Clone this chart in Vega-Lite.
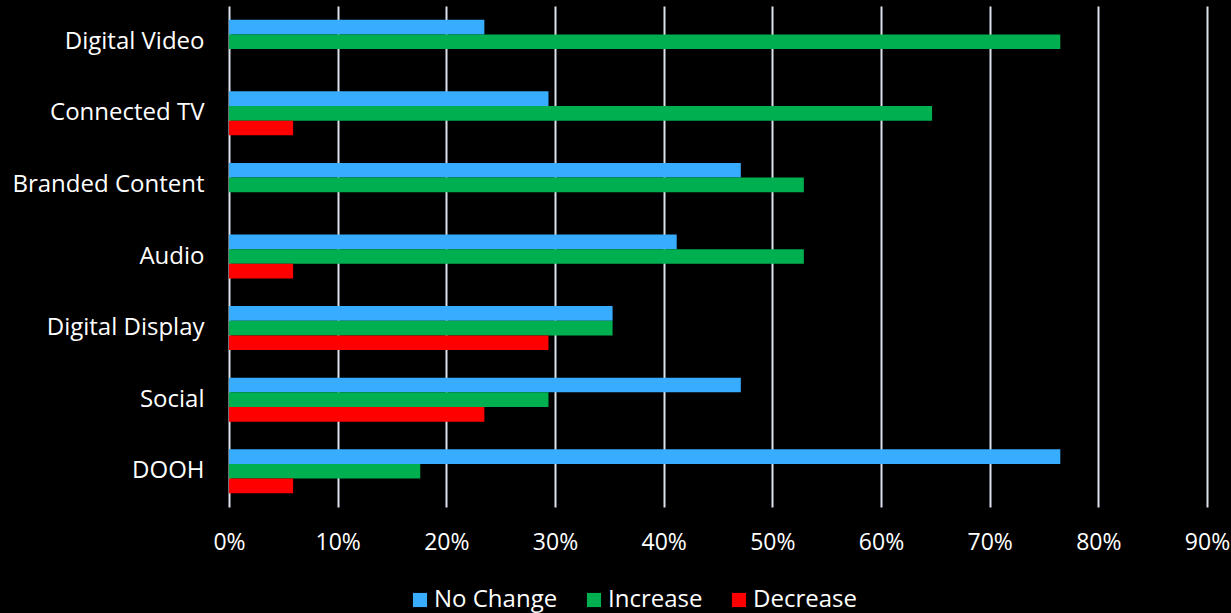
{
  "$schema": "https://vega.github.io/schema/vega-lite/v6.json",
  "width": 978,
  "height": 501,
  "autosize": "none",
  "padding": {"left": 229, "top": 6, "right": 24, "bottom": 106},
  "background": "#000000",
  "config": {
    "view": {"stroke": null},
    "font": "Open Sans"
  },
  "data": {
    "values": [
      {"channel": "Digital Video", "series": "No Change", "value": 0.235},
      {"channel": "Digital Video", "series": "Increase", "value": 0.765},
      {"channel": "Digital Video", "series": "Decrease", "value": 0},
      {"channel": "Connected TV", "series": "No Change", "value": 0.294},
      {"channel": "Connected TV", "series": "Increase", "value": 0.647},
      {"channel": "Connected TV", "series": "Decrease", "value": 0.059},
      {"channel": "Branded Content", "series": "No Change", "value": 0.471},
      {"channel": "Branded Content", "series": "Increase", "value": 0.529},
      {"channel": "Branded Content", "series": "Decrease", "value": 0},
      {"channel": "Audio", "series": "No Change", "value": 0.412},
      {"channel": "Audio", "series": "Increase", "value": 0.529},
      {"channel": "Audio", "series": "Decrease", "value": 0.059},
      {"channel": "Digital Display", "series": "No Change", "value": 0.353},
      {"channel": "Digital Display", "series": "Increase", "value": 0.353},
      {"channel": "Digital Display", "series": "Decrease", "value": 0.294},
      {"channel": "Social", "series": "No Change", "value": 0.471},
      {"channel": "Social", "series": "Increase", "value": 0.294},
      {"channel": "Social", "series": "Decrease", "value": 0.235},
      {"channel": "DOOH", "series": "No Change", "value": 0.765},
      {"channel": "DOOH", "series": "Increase", "value": 0.176},
      {"channel": "DOOH", "series": "Decrease", "value": 0.059}
    ]
  },
  "mark": {"type": "bar"},
  "encoding": {
    "y": {
      "field": "channel",
      "type": "nominal",
      "sort": ["Digital Video", "Connected TV", "Branded Content", "Audio", "Digital Display", "Social", "DOOH"],
      "scale": {"paddingInner": 0.385, "paddingOuter": 0.1925},
      "axis": {
        "title": null,
        "domain": false,
        "ticks": false,
        "labelPadding": 25,
        "labelFontSize": 24,
        "labelColor": "#FFFFFF",
        "labelFont": "Open Sans",
        "labelLimit": 300
      }
    },
    "yOffset": {
      "field": "series",
      "type": "nominal",
      "sort": ["No Change", "Increase", "Decrease"]
    },
    "x": {
      "field": "value",
      "type": "quantitative",
      "scale": {"domain": [0, 0.9], "nice": false},
      "axis": {
        "title": null,
        "format": ".0%",
        "values": [0, 0.1, 0.2, 0.3, 0.4, 0.5, 0.6, 0.7, 0.8, 0.9],
        "domain": false,
        "ticks": false,
        "grid": true,
        "gridColor": "#DCE3EC",
        "gridWidth": 2,
        "labelFlush": false,
        "labelOverlap": false,
        "labelPadding": 24,
        "labelFontSize": 23,
        "labelColor": "#FFFFFF",
        "labelFont": "Open Sans"
      }
    },
    "color": {
      "field": "series",
      "type": "nominal",
      "sort": ["No Change", "Increase", "Decrease"],
      "scale": {
        "domain": ["No Change", "Increase", "Decrease"],
        "range": ["#38ADFF", "#00B050", "#FF0000"]
      },
      "legend": {
        "title": null,
        "orient": "none",
        "direction": "horizontal",
        "legendX": 179,
        "legendY": 582,
        "symbolType": "square",
        "symbolSize": 200,
        "symbolStrokeWidth": 0,
        "symbolOpacity": 1,
        "labelFontSize": 24,
        "labelColor": "#FFFFFF",
        "labelFont": "Open Sans",
        "labelOffset": 2,
        "columnPadding": 24
      }
    }
  }
}
